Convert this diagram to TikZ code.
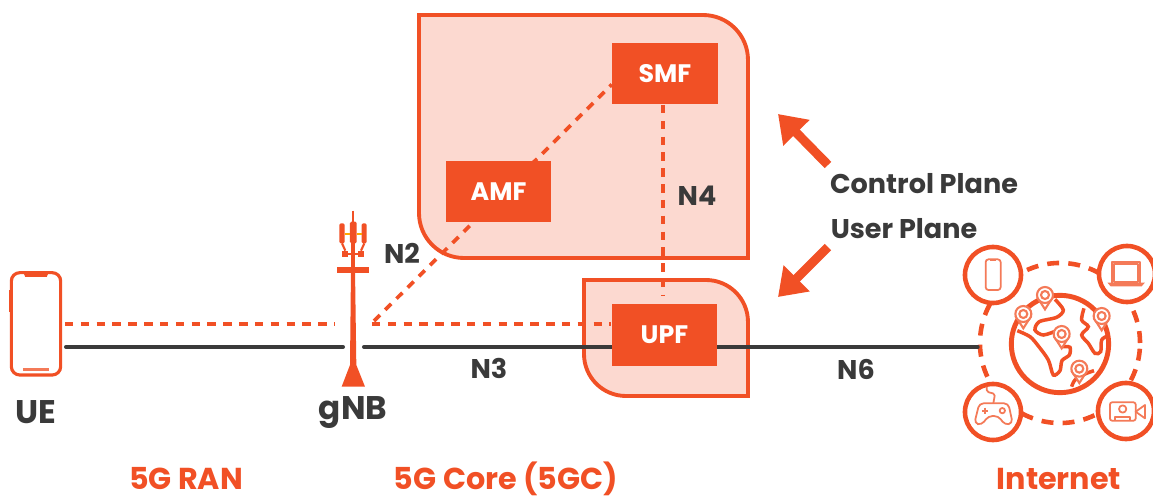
\documentclass[tikz,border=0pt]{standalone}
\usepackage{fontspec}
\setmainfont{Poppins}
\usetikzlibrary{arrows.meta,backgrounds}

\definecolor{fiveorange}{HTML}{F15025}
\definecolor{fivepale}{HTML}{FCD9D0}
\definecolor{fivedark}{HTML}{3A3A3A}
\definecolor{fivethin}{HTML}{F47A58}

\tikzset{
    nfbox/.style={fill=fiveorange, text=white, inner sep=0pt, minimum width=1.05cm, minimum height=0.615cm, font=\fontsize{7.2}{8}\selectfont\bfseries},
    pane/.style={draw=fiveorange, fill=fivepale, line width=1.1pt},
    ifname/.style={text=fivedark, inner sep=0pt, font=\fontsize{7.7}{9}\selectfont\bfseries},
    gearname/.style={text=fivedark, inner sep=0pt, font=\fontsize{9.3}{11}\selectfont\bfseries},
    zonename/.style={text=fiveorange, inner sep=0pt, font=\fontsize{8.6}{10}\selectfont\bfseries},
    ctrl/.style={draw=fiveorange, line width=1.05pt, dash pattern=on 2.4pt off 2.1pt},
    user/.style={draw=fivedark, line width=1.15pt, line cap=round},
    ring/.style={circle, draw=fiveorange, line width=1.3pt, dash pattern=on 3.4pt off 2.6pt, minimum size=1.6cm, inner sep=0pt},
    device/.style={circle, draw=fiveorange, fill=white, line width=1.3pt, minimum size=0.56cm, inner sep=0pt},
    thinicon/.style={draw=fivethin, line width=0.5pt, line join=round},
    land/.style={draw=fiveorange, line width=1pt, smooth}
}

\begin{document}
\begin{tikzpicture}[x=0.01cm, y=-0.01cm, >={Triangle[length=7.5pt,width=10pt]}]
    \useasboundingbox (0,0) rectangle (1153,497);

    % Nodes {smf, amf, upf, phone, laptop, gamepad, camera}
    \node [nfbox]	(smf)	at (665,73.5)	{SMF};
    \node [nfbox]	(amf)	at (498.5,191.5)	{AMF};
    \node [nfbox]	(upf)	at (664.5,335)	{UPF};

    \node [device]	(phone)	at (993,275)	{};
    \node [device]	(laptop)	at (1127,274)	{};
    \node [device]	(gamepad)	at (993,412)	{};
    \node [device]	(camera)	at (1126,411)	{};

    % Free ends of the lines
    \coordinate (uectrl) at (65,324);
    \coordinate (uedata) at (66,347);
    \coordinate (gnbctrll) at (335,324);
    \coordinate (gnbctrlr) at (372,324);
    \coordinate (gnbdatal) at (343,347);
    \coordinate (gnbdatar) at (364,347);
    \coordinate (gnbfork) at (374,321);
    \coordinate (upftop) at (663,296);

    \begin{scope}[on background layer]
        \node [ring]	(net)	at (1060,343)	{};

        % Panes
        \draw [pane] (419,15) -- (703,15) to[out=0,in=90] (748,60) -- (748,258) -- (464,258) to[out=180,in=-90] (419,213) -- cycle;
        \draw [pane] (584,280) -- (706,280) to[out=0,in=90] (748,322) -- (748,396) -- (626,396) to[out=180,in=-90] (584,354) -- cycle;

        % Paths
        \draw [ctrl] (uectrl) -- (gnbctrll);
        \draw [ctrl] (gnbctrlr) -- (upf.west |- gnbctrlr);
        \draw [ctrl] (gnbfork) -- ([yshift=-0.11cm]smf.west);
        \draw [ctrl] (smf.south -| upftop) -- (upftop);
        \draw [user] (uedata) -- (gnbdatal);
        \draw [user] (gnbdatar) -- (upf.west |- gnbdatar);
        \draw [user] (upf.east |- gnbdatar) -- (net.west |- gnbdatar);
    \end{scope}

    % Arrows to the planes
    \coordinate (ctrlfrom) at (828,165);
    \coordinate (ctrlto) at (778,114);
    \coordinate (userfrom) at (828,247);
    \coordinate (userto) at (778,297);
    \draw [->, fiveorange, line width=2.6pt] (ctrlfrom) -- (ctrlto);
    \draw [->, fiveorange, line width=2.6pt] (userfrom) -- (userto);

    % UE handset
    \begin{scope}[shift={(0,260)}, scale=1/3]
        \draw [fiveorange, line width=0.9pt, rounded corners=2.4pt] (34,38) rectangle (182,345);
        \fill [fiveorange] (70,38) -- (146,38) -- (140,51) -- (76,51) -- cycle;
        \draw [fivethin, line width=0.7pt] (69,329) -- (146,329);
        \draw [fiveorange, line width=0.5pt] (31,90) -- (31,155) (184,115) -- (184,150);
    \end{scope}

    % gNB tower
    \begin{scope}[shift={(310,200)}, scale=1/3, fiveorange]
        \fill (123,205) -- (135,205) -- (139,495) -- (165,560) -- (95,560) -- (120,495) -- cycle;
        \fill (82,200) rectangle (176,218);
        \fill (97,152) rectangle (115,172);
        \fill (143,152) rectangle (162,172);
        \fill (115,158) rectangle (143,166);
        \fill (124,130) rectangle (134,205);
        \fill [rounded corners=0.4pt] (88,70) rectangle (104,130);
        \fill [rounded corners=0.4pt] (155,70) rectangle (170,130);
        \fill [rounded corners=0.4pt] (120,65) rectangle (140,130);
        \draw [line width=0.6pt] (128,32) -- (128,65);
        \draw [line width=0.6pt] (96,130) -- (106,152) (163,130) -- (153,152);
        \draw [line width=0.5pt, orange!70!yellow] (104,101) -- (120,101) (140,101) -- (155,101);
    \end{scope}

    % Internet icons
    \begin{scope}[shift={(960,240)}, scale=1/3]
        % globe
        \draw [fiveorange, line width=1.4pt] (300,312) circle (146);
        \draw [land] plot coordinates {(172,272) (210,290) (235,318) (265,360) (280,405) (300,392) (306,362) (328,345) (330,322) (308,320)};
        \draw [land] plot coordinates {(285,178) (310,210) (290,232) (238,245) (225,270) (250,285) (290,272)};
        \draw [land] plot coordinates {(372,205) (365,240) (385,260) (365,285) (385,310) (405,340) (422,335) (425,300) (442,288)};
        \draw [land] plot coordinates {(335,440) (345,420) (375,402) (402,392)};
        % pins
        \foreach \pinx/\piny in {255/165, 190/222, 425/228, 305/282, 358/386} {
            \draw [fill=white, draw=fivethin, line width=0.6pt] (\pinx-21,\piny+10) -- (\pinx,\piny+43) -- (\pinx+21,\piny+10) -- cycle;
            \draw [fill=white, draw=fivethin, line width=0.6pt] (\pinx,\piny) circle (24);
            \draw [draw=fivethin, line width=0.6pt] (\pinx,\piny) circle (12);
        }
        % phone
        \draw [thinicon, rounded corners=0.8pt] (77,58) rectangle (122,150);
        \draw [thinicon] (90,60) -- (109,60);
        % laptop
        \draw [thinicon] (455,130) -- (455,65) -- (541,65) -- (541,130);
        \draw [thinicon] (461,71) rectangle (535,125);
        \draw [fivethin, fill=fivethin] (447,130) -- (550,130) -- (544,137) -- (453,137) -- cycle;
        % gamepad
        \draw [thinicon, rounded corners=0.5pt] (80,440) -- (80,455) -- (105,462) -- (100,490);
        \draw [thinicon, rounded corners=1.2pt] (58,490) -- (145,490) -- (158,550) -- (135,555) -- (115,528) -- (85,528) -- (65,555) -- (43,550) -- cycle;
        \draw [thinicon] (66,512) -- (84,512) (75,503) -- (75,521);
        \draw [thinicon] (127,512) circle (8);
        % camera
        \draw [thinicon, rounded corners=0.6pt] (450,487) rectangle (527,542);
        \draw [thinicon] (527,515) -- (555,495) -- (555,535) -- cycle;
        \draw [thinicon] (488,507) circle (11);
        \draw [thinicon] (466,542) -- (466,530) -- (510,530) -- (510,542);
    \end{scope}

    % Labels
    \node [gearname]	(uelabel)	at (36,412)	{UE};
    \node [gearname]	(gnblabel)	at (353,413)	{gNB};
    \node [ifname]	(ntwo)	at (402,253)	{N2};
    \node [ifname]	(nthree)	at (489,368)	{N3};
    \node [ifname]	(nfour)	at (697,196)	{N4};
    \node [ifname]	(nsix)	at (856,369)	{N6};
    \node [ifname]	(ctrllabel)	at (924,184)	{Control Plane};
    \node [ifname]	(userlabel)	at (904,229)	{User Plane};
    \node [zonename]	(ranlabel)	at (186,479)	{5G RAN};
    \node [zonename]	(corelabel)	at (506,479)	{5G Core (5GC)};
    \node [zonename]	(netlabel)	at (1059,479)	{Internet};
\end{tikzpicture}
\end{document}
